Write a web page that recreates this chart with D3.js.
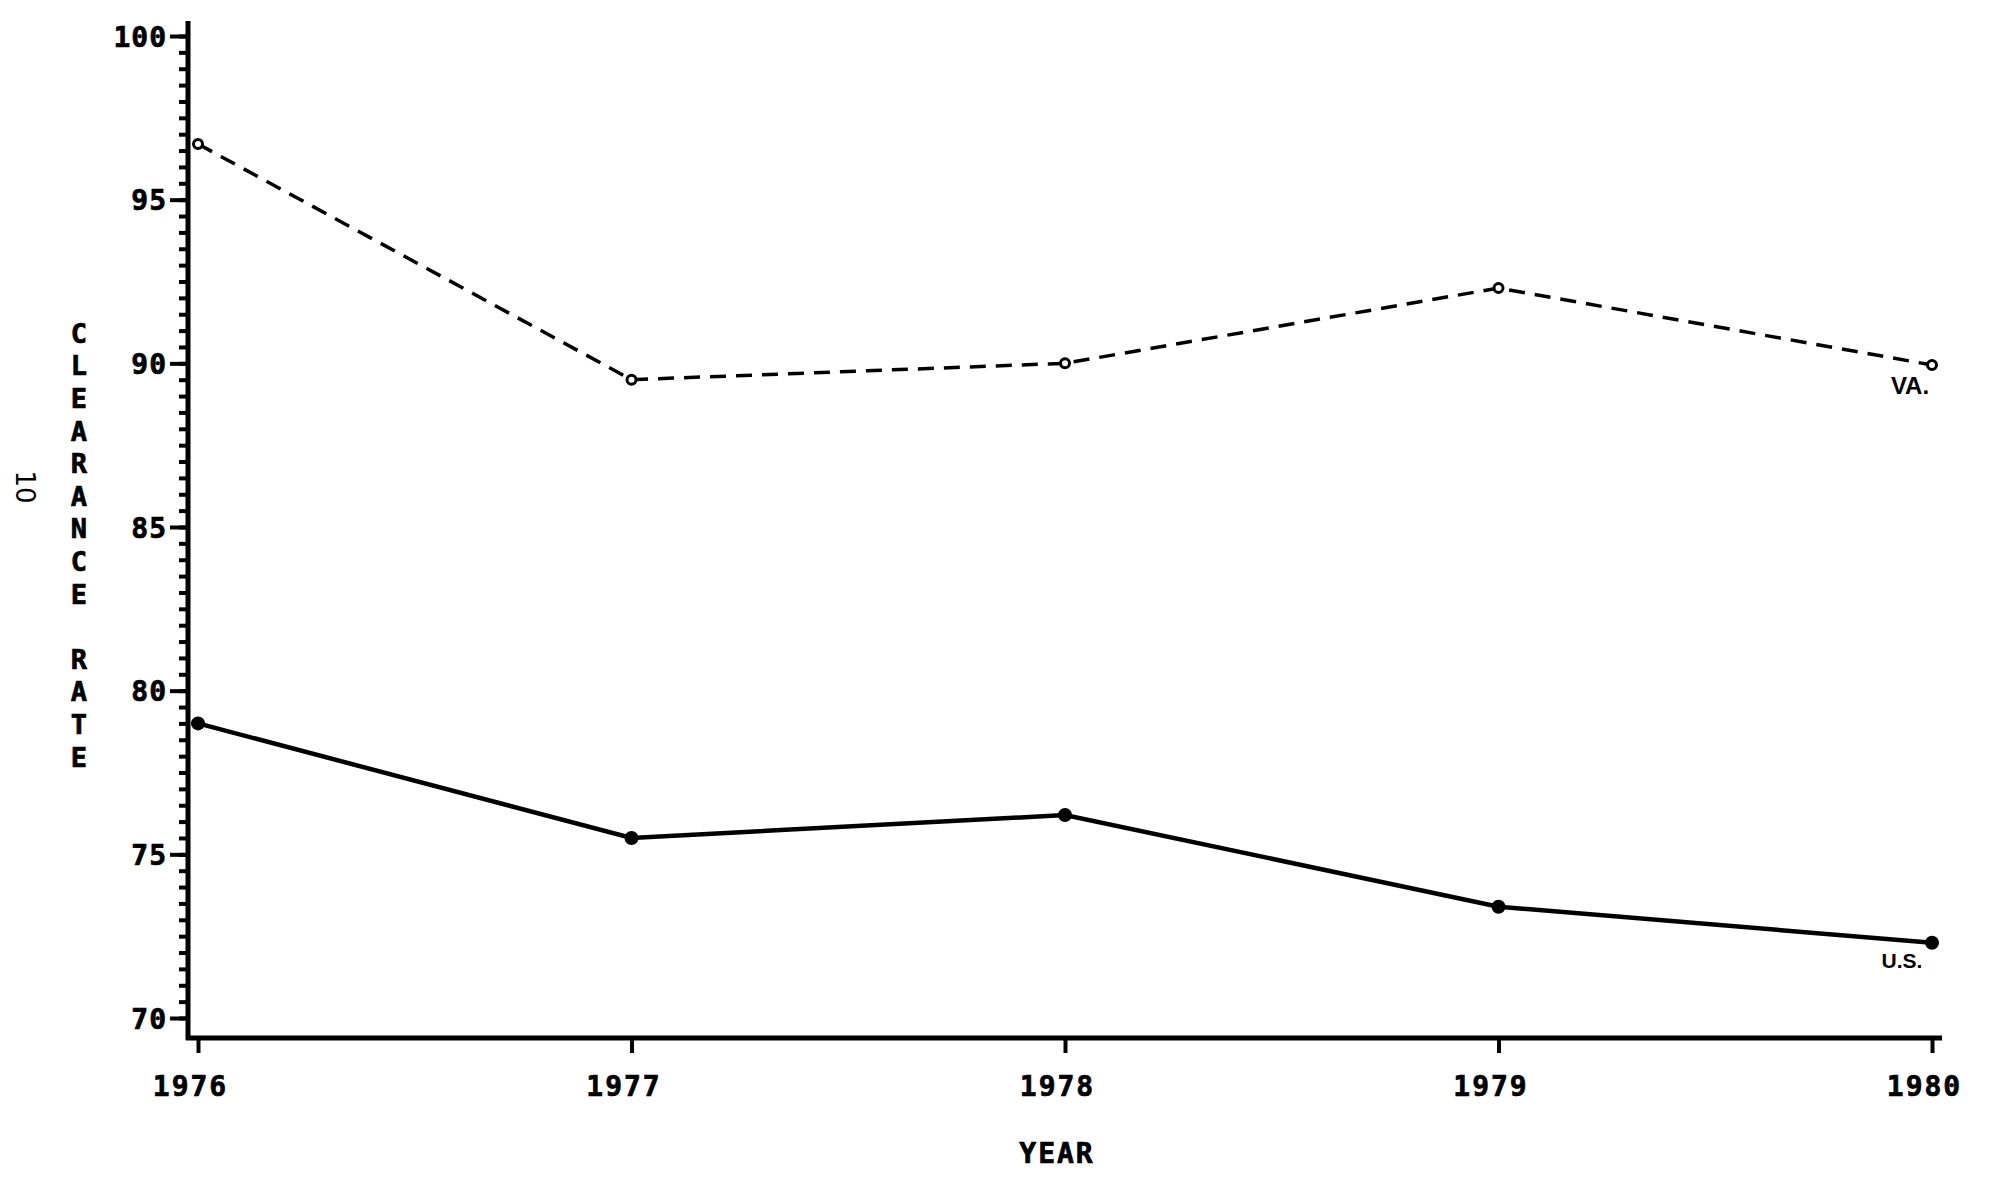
<!DOCTYPE html>
<html>
<head>
<meta charset="utf-8">
<script src="https://cdn.jsdelivr.net/npm/d3@7"></script>
<style>
  body { margin: 0; background: #fff; }
  svg { display: block; background: #fff; }
  .plot { font-family: "DejaVu Sans Mono", monospace; font-weight: bold; fill: #000; stroke: #000; stroke-width: 0.7; }
  .lbl { font-family: "Liberation Sans", Arial, sans-serif; font-weight: bold; }
</style>
</head>
<body>
<svg class="chart" width="1989" height="1187"></svg>
<script>
const years = [1976, 1977, 1978, 1979, 1980];
const vaRate = [96.7, 89.5, 90.0, 92.3, 89.95];
const usRate = [79.0, 75.5, 76.2, 73.4, 72.3];
const yMajorTicks = [70, 75, 80, 85, 90, 95, 100];
const yLabel = "CLEARANCE RATE";

const svg = d3.select("svg.chart");

const x = d3.scaleLinear().domain([1976, 1980]).range([198, 1932]);
const y = d3.scaleLinear().domain([70, 100]).range([1018, 36]);

// y axis: minor ticks every half unit, longer ticks at fives
const minorTicks = d3.range(70, 100.01, 0.5);

const yMinor = svg.append("g")
  .attr("transform", "translate(188,0)")
  .call(d3.axisLeft(y).tickValues(minorTicks).tickSize(9).tickFormat(""));

const yMajor = svg.append("g")
  .attr("transform", "translate(188,0)")
  .call(d3.axisLeft(y).tickValues(yMajorTicks).tickSize(18).tickPadding(3)
    .tickFormat(d3.format("d")));

[yMinor, yMajor].forEach(g => {
  g.select(".domain").remove();
  g.selectAll("line").attr("stroke", "#000").attr("stroke-width", 4);
});

yMajor.selectAll("text")
  .attr("class", "plot")
  .attr("font-size", 28)
  .attr("letter-spacing", 1)
  .attr("dy", "0.36em");

// x axis
const xAxis = svg.append("g")
  .attr("transform", "translate(0,1038)")
  .call(d3.axisBottom(x).tickValues(years).tickSize(15).tickSizeOuter(0)
    .tickPadding(23).tickFormat(d3.format("d")));

xAxis.select(".domain").remove();
xAxis.selectAll("line").attr("stroke", "#000").attr("stroke-width", 4);
xAxis.selectAll("text")
  .attr("class", "plot")
  .attr("font-size", 28)
  .attr("letter-spacing", 2)
  .attr("x", -8);

// axis lines
svg.append("line")
  .attr("x1", 188).attr("x2", 188)
  .attr("y1", 21).attr("y2", 1040)
  .attr("stroke", "#000").attr("stroke-width", 5);

svg.append("line")
  .attr("x1", 186).attr("x2", 1942)
  .attr("y1", 1038).attr("y2", 1038)
  .attr("stroke", "#000").attr("stroke-width", 5);

// series
const line = d3.line()
  .x((d, i) => x(years[i]))
  .y(d => y(d));

svg.append("path")
  .datum(vaRate)
  .attr("d", line)
  .attr("fill", "none")
  .attr("stroke", "#000")
  .attr("stroke-width", 3.5)
  .attr("stroke-dasharray", "16,10");

svg.append("path")
  .datum(usRate)
  .attr("d", line)
  .attr("fill", "none")
  .attr("stroke", "#000")
  .attr("stroke-width", 4.5);

svg.selectAll("circle.va")
  .data(vaRate)
  .enter()
  .append("circle")
  .attr("class", "va")
  .attr("cx", (d, i) => x(years[i]))
  .attr("cy", d => y(d))
  .attr("r", 4.5)
  .attr("fill", "#fff")
  .attr("stroke", "#000")
  .attr("stroke-width", 3);

svg.selectAll("circle.us")
  .data(usRate)
  .enter()
  .append("circle")
  .attr("class", "us")
  .attr("cx", (d, i) => x(years[i]))
  .attr("cy", d => y(d))
  .attr("r", 7)
  .attr("fill", "#000");

// series labels near last points
svg.append("text")
  .attr("class", "lbl")
  .attr("x", x(1980) - 22)
  .attr("y", y(vaRate[4]) + 29)
  .attr("text-anchor", "middle")
  .attr("font-size", 24)
  .text("VA.");

svg.append("text")
  .attr("class", "lbl")
  .attr("x", x(1980) - 30)
  .attr("y", y(usRate[4]) + 25)
  .attr("text-anchor", "middle")
  .attr("font-size", 21)
  .text("U.S.");

// axis titles
svg.selectAll("text.ylab")
  .data(yLabel.split(""))
  .enter()
  .append("text")
  .attr("class", "plot ylab")
  .attr("x", 79)
  .attr("y", (d, i) => 333 + i * 32.6)
  .attr("dy", "0.36em")
  .attr("text-anchor", "middle")
  .attr("font-size", 27)
  .text(d => d);

svg.append("text")
  .attr("class", "plot")
  .attr("x", 1057)
  .attr("y", 1163)
  .attr("text-anchor", "middle")
  .attr("font-size", 28)
  .attr("letter-spacing", 2)
  .text("YEAR");

// page number, turned sideways
svg.append("text")
  .attr("transform", "translate(25,487) rotate(90)")
  .attr("text-anchor", "middle")
  .attr("dy", "0.36em")
  .attr("font-family", "DejaVu Sans, sans-serif")
  .attr("font-size", 26)
  .text("10");
</script>
</body>
</html>
